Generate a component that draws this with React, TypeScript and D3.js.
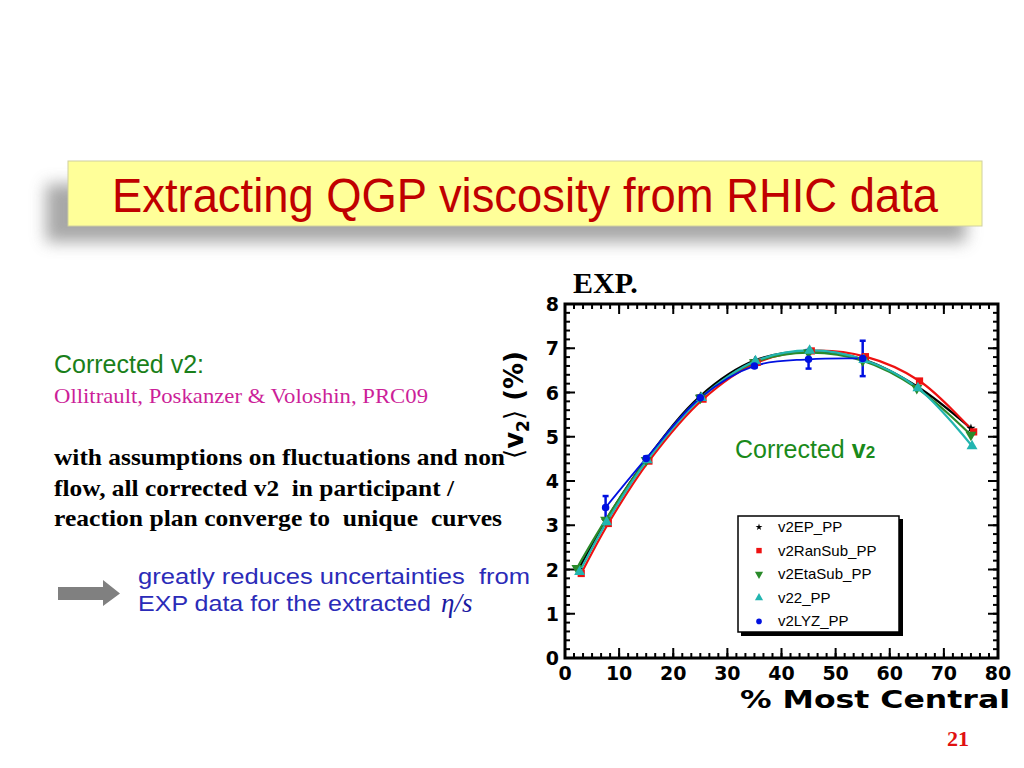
import * as d3 from 'd3';

// centrality bins (% most central) and <v2> (%) per method
const epX = [2.5, 7.5, 15, 25, 35, 45, 55, 65, 75];
const epY = [2.0, 3.1, 4.48, 5.92, 6.72, 6.93, 6.75, 6.14, 5.19];
const ranSubX = [3, 8, 15.5, 25.5, 35.5, 45.5, 55.5, 65.5, 75.5];
const ranSubY = [1.91, 3.04, 4.45, 5.85, 6.68, 6.94, 6.81, 6.26, 5.11];
const etaSubX = [2.2, 7.5, 15, 25, 35, 45, 55, 65, 75];
const etaSubY = [2.03, 3.12, 4.47, 5.88, 6.68, 6.9, 6.72, 6.1, 5.04];
const v22X = [2.7, 7.7, 15.2, 25.2, 35.2, 45.2, 55.2, 65.2, 75.2];
const v22Y = [1.95, 3.07, 4.47, 5.88, 6.71, 6.95, 6.74, 6.1, 4.79];
const lyzX = [7.5, 15, 25, 35, 45, 55];
const lyzY = [3.4, 4.51, 5.88, 6.6, 6.75, 6.77];
const lyzErr = [0.26, 0.04, 0.04, 0.04, 0.21, 0.4];

const seriesNames = ['v2EP_PP', 'v2RanSub_PP', 'v2EtaSub_PP', 'v22_PP', 'v2LYZ_PP'];
const seriesColors = ['#000000', '#ee1111', '#2a8a2a', '#22b5b0', '#0010e0'];
const seriesSymbols = [d3.symbolStar, d3.symbolSquare, d3.symbolTriangle, d3.symbolTriangle, d3.symbolCircle];
const seriesX = [epX, ranSubX, etaSubX, v22X, lyzX];
const seriesY = [epY, ranSubY, etaSubY, v22Y, lyzY];

const xTickLabels = [0, 10, 20, 30, 40, 50, 60, 70, 80];
const yTickLabels = [0, 1, 2, 3, 4, 5, 6, 7, 8];

const plot = { left: 565, right: 998, top: 304, bottom: 658 };

const App = () => {
  const x = d3.scaleLinear().domain([0, 80]).range([plot.left, plot.right]);
  const y = d3.scaleLinear().domain([0, 8]).range([plot.bottom, plot.top]);
  const line = d3
    .line<[number, number]>()
    .x(d => x(d[0]))
    .y(d => y(d[1]))
    .curve(d3.curveCatmullRom.alpha(0.5));

  const xMinor = d3.range(0, 49).map(i => (i * 10) / 6);
  const yMinor = d3.range(0, 41).map(i => i * 0.2);
  const tickFont = "'DejaVu Sans', sans-serif";

  const symbolPath = (i: number) => {
    const sizes = [26, 52, 52, 52, 44];
    return d3.symbol(seriesSymbols[i], sizes[i])() ?? '';
  };
  const rot = (i: number) => (i === 2 ? 'rotate(180)' : '');

  return (
    <svg width={1024} height={768} style={{ position: 'absolute', left: 0, top: 0, background: '#fff' }}>
      <defs>
        <filter id="blur" x="-10%" y="-50%" width="120%" height="200%">
          <feGaussianBlur stdDeviation="8" />
        </filter>
      </defs>

      {/* title */}
      <rect x={46} y={184} width={920} height={58} fill="#8a8a8a" opacity={0.75} filter="url(#blur)" />
      <rect x={68} y={161} width={914} height={65} fill="#ffff99" stroke="#d0d0a0" strokeWidth={1} />
      <text
        x={525}
        y={212}
        textAnchor="middle"
        fontFamily="'Liberation Sans', Arial, sans-serif"
        fontSize={48}
        fill="#c00000"
        textLength={826}
        lengthAdjust="spacingAndGlyphs"
      >
        Extracting QGP viscosity from RHIC data
      </text>

      {/* left side text */}
      <text x={54} y={373} fontFamily="'Liberation Sans', Arial, sans-serif" fontSize={25} fill="#1a7f1a">
        Corrected v2:
      </text>
      <text
        x={54}
        y={403}
        fontFamily="'Liberation Serif', serif"
        fontSize={22}
        fill="#cc1f99"
        textLength={374}
        lengthAdjust="spacingAndGlyphs"
      >
        Ollitrault, Poskanzer &amp; Voloshin, PRC09
      </text>
      <g fontFamily="'Liberation Serif', serif" fontWeight="bold" fontSize={23} fill="#000">
        <text x={54} y={465} textLength={451} lengthAdjust="spacingAndGlyphs">
          with assumptions on fluctuations and non
        </text>
        <text x={54} y={496} textLength={400} lengthAdjust="spacingAndGlyphs" style={{ whiteSpace: 'pre' }}>
          flow, all corrected v2  in participant /
        </text>
        <text x={54} y={526} textLength={448} lengthAdjust="spacingAndGlyphs" style={{ whiteSpace: 'pre' }}>
          reaction plan converge to  unique  curves
        </text>
      </g>
      <path d="M58,587 L103,587 L103,580 L120,593.5 L103,606 L103,600 L58,600 Z" fill="#808080" />
      <g fontFamily="'Liberation Sans', Arial, sans-serif" fontSize={22} fill="#2b2bb8">
        <text x={138} y={584} textLength={392} lengthAdjust="spacingAndGlyphs" style={{ whiteSpace: 'pre' }}>
          greatly reduces uncertainties  from
        </text>
        <text x={138} y={611} textLength={293} lengthAdjust="spacingAndGlyphs">
          EXP data for the extracted
        </text>
      </g>
      <text x={441} y={612} fontFamily="'Liberation Serif', serif" fontStyle="italic" fontSize={27} fill="#1a1aa0">
        η/s
      </text>

      {/* EXP. label */}
      <text x={573} y={293} fontFamily="'Liberation Serif', serif" fontWeight="bold" fontSize={30} fill="#000">
        EXP.
      </text>

      {/* plot frame and ticks */}
      <g stroke="#000">
        {xTickLabels.map(t => (
          <g key={'xm' + t}>
            <line x1={x(t)} x2={x(t)} y1={plot.bottom} y2={plot.bottom - 10} strokeWidth={2} />
            <line x1={x(t)} x2={x(t)} y1={plot.top} y2={plot.top + 10} strokeWidth={2} />
          </g>
        ))}
        {xMinor.map((t, i) => (
          <g key={'xn' + i}>
            <line x1={x(t)} x2={x(t)} y1={plot.bottom} y2={plot.bottom - 5} strokeWidth={2} />
            <line x1={x(t)} x2={x(t)} y1={plot.top} y2={plot.top + 5} strokeWidth={2} />
          </g>
        ))}
        {yTickLabels.map(t => (
          <g key={'ym' + t}>
            <line x1={plot.left} x2={plot.left + 10} y1={y(t)} y2={y(t)} strokeWidth={2} />
            <line x1={plot.right} x2={plot.right - 10} y1={y(t)} y2={y(t)} strokeWidth={2} />
          </g>
        ))}
        {yMinor.map((t, i) => (
          <g key={'yn' + i}>
            <line x1={plot.left} x2={plot.left + 5} y1={y(t)} y2={y(t)} strokeWidth={2} />
            <line x1={plot.right} x2={plot.right - 5} y1={y(t)} y2={y(t)} strokeWidth={2} />
          </g>
        ))}
        <rect
          x={plot.left}
          y={plot.top}
          width={plot.right - plot.left}
          height={plot.bottom - plot.top}
          fill="none"
          strokeWidth={3}
        />
      </g>
      <g fontFamily={tickFont} fontWeight="bold" fontSize={19} fill="#000">
        {xTickLabels.map(t => (
          <text key={'xl' + t} x={x(t)} y={680} textAnchor="middle">
            {t}
          </text>
        ))}
        {yTickLabels.map(t => (
          <text key={'yl' + t} x={559} y={y(t) + 7} textAnchor="end">
            {t}
          </text>
        ))}
      </g>
      <text
        x={1010}
        y={708}
        textAnchor="end"
        fontFamily={tickFont}
        fontWeight="bold"
        fontSize={25}
        fill="#000"
        textLength={270}
        lengthAdjust="spacingAndGlyphs"
      >
        % Most Central
      </text>
      <text
        transform="translate(523,405) rotate(-90)"
        textAnchor="middle"
        fontFamily={tickFont}
        fontWeight="bold"
        fontSize={26}
        fill="#000"
      >
        <tspan fontWeight="normal">⟨</tspan>v<tspan fontSize={17} dy={6}>2</tspan>
        <tspan dy={-6} fontWeight="normal">⟩</tspan> (%)
      </text>

      {/* series lines */}
      {seriesX.map((xs, i) => (
        <path
          key={'l' + i}
          d={line(xs.map((v, j) => [v, seriesY[i][j]] as [number, number])) ?? ''}
          fill="none"
          stroke={seriesColors[i]}
          strokeWidth={i === 4 ? 1.8 : 2.2}
        />
      ))}
      {/* LYZ error bars */}
      <g stroke={seriesColors[4]} strokeWidth={2.5}>
        {lyzX.map((v, j) => (
          <g key={'e' + j}>
            <line x1={x(v)} x2={x(v)} y1={y(lyzY[j] - lyzErr[j])} y2={y(lyzY[j] + lyzErr[j])} />
            <line x1={x(v) - 3} x2={x(v) + 3} y1={y(lyzY[j] - lyzErr[j])} y2={y(lyzY[j] - lyzErr[j])} />
            <line x1={x(v) - 3} x2={x(v) + 3} y1={y(lyzY[j] + lyzErr[j])} y2={y(lyzY[j] + lyzErr[j])} />
          </g>
        ))}
      </g>
      {/* markers */}
      {seriesX.map((xs, i) =>
        xs.map((v, j) => (
          <path
            key={'m' + i + '-' + j}
            d={symbolPath(i)}
            transform={`translate(${x(v)},${y(seriesY[i][j])}) ${rot(i)}`}
            fill={seriesColors[i]}
          />
        ))
      )}

      {/* in-plot label */}
      <text x={735} y={458} fontFamily="'Liberation Sans', Arial, sans-serif" fontSize={25} fill="#1a8a1a">
        Corrected <tspan fontWeight="bold">v</tspan>
        <tspan fontSize={17} fontWeight="bold">2</tspan>
      </text>

      {/* legend */}
      <rect x={741} y={519} width={162} height={117} fill="#000" />
      <rect x={738} y={516} width={161} height={116} fill="#fff" stroke="#000" strokeWidth={1.5} />
      {seriesNames.map((name, i) => {
        const ly = 527 + i * 23.6;
        return (
          <g key={'lg' + i}>
            <path d={symbolPath(i)} transform={`translate(759,${ly}) ${rot(i)} scale(0.75)`} fill={seriesColors[i]} />
            <text x={778} y={ly + 5} fontFamily="'Liberation Sans', Arial, sans-serif" fontSize={15} fill="#000">
              {name}
            </text>
          </g>
        );
      })}

      {/* page number */}
      <text x={947} y={746} fontFamily="'Liberation Serif', serif" fontWeight="bold" fontSize={22} fill="#e01010">
        21
      </text>
    </svg>
  );
};

export default App;
